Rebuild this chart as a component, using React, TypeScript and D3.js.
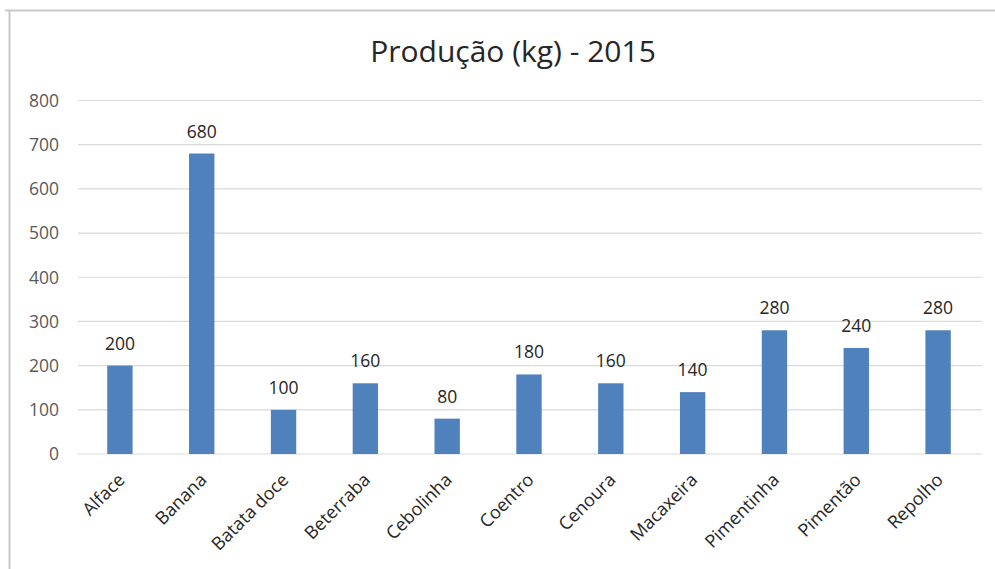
import React from "react";
import * as d3 from "d3";

const categories = ["Alface", "Banana", "Batata doce", "Beterraba", "Cebolinha", "Coentro", "Cenoura", "Macaxeira", "Pimentinha", "Pimentão", "Repolho"];
const values = [200, 680, 100, 160, 80, 180, 160, 140, 280, 240, 280];
const yTicks = [0, 100, 200, 300, 400, 500, 600, 700, 800];
const title = "Produção (kg) - 2015";

const W = 995, H = 569;
const FONT = "'Open Sans', 'Noto Sans', sans-serif";

export default function App() {
  const x = d3.scaleBand<string>().domain(categories).range([79, 979]).paddingInner(0.69).paddingOuter(0.345);
  const y = d3.scaleLinear().domain([0, 800]).range([454, 100.5]);
  return (
    <svg width={W} height={H} style={{ position: "absolute", left: 0, top: 0, background: "#fff" }}>
      <rect x={0} y={0} width={W} height={H} fill="#fff" />
      <line x1={5} x2={W} y1={10.5} y2={10.5} stroke="#c9c9c9" strokeWidth={2} />
      <line x1={9.5} x2={9.5} y1={10} y2={H} stroke="#c9c9c9" strokeWidth={2} />
      <text x={513} y={62} textAnchor="middle" fontFamily={FONT} fontSize={30} fill="#262626">{title}</text>
      {yTicks.map(t => (
        <g key={t}>
          <line x1={78} x2={982} y1={y(t)} y2={y(t)} stroke="#d9d9d9" strokeWidth={1.2} />
          <text x={59} y={y(t)} dy="0.36em" textAnchor="end" fontFamily={FONT} fontSize={17.5} fill="#595959">{t}</text>
        </g>
      ))}
      {categories.map((c, i) => {
        const bx = x(c)!;
        const cx = bx + x.bandwidth() / 2;
        return (
          <g key={c}>
            <rect x={bx} y={y(values[i])} width={x.bandwidth()} height={y(0) - y(values[i])} fill="#4f81bd" />
            <text x={cx} y={y(values[i]) - 16} textAnchor="middle" fontFamily={FONT} fontSize={17.5} fill="#262626">{values[i]}</text>
            <text transform={`translate(${cx + 6},${481}) rotate(-45)`} textAnchor="end" fontFamily={FONT} fontSize={18} fill="#262626">{c}</text>
          </g>
        );
      })}
    </svg>
  );
}
